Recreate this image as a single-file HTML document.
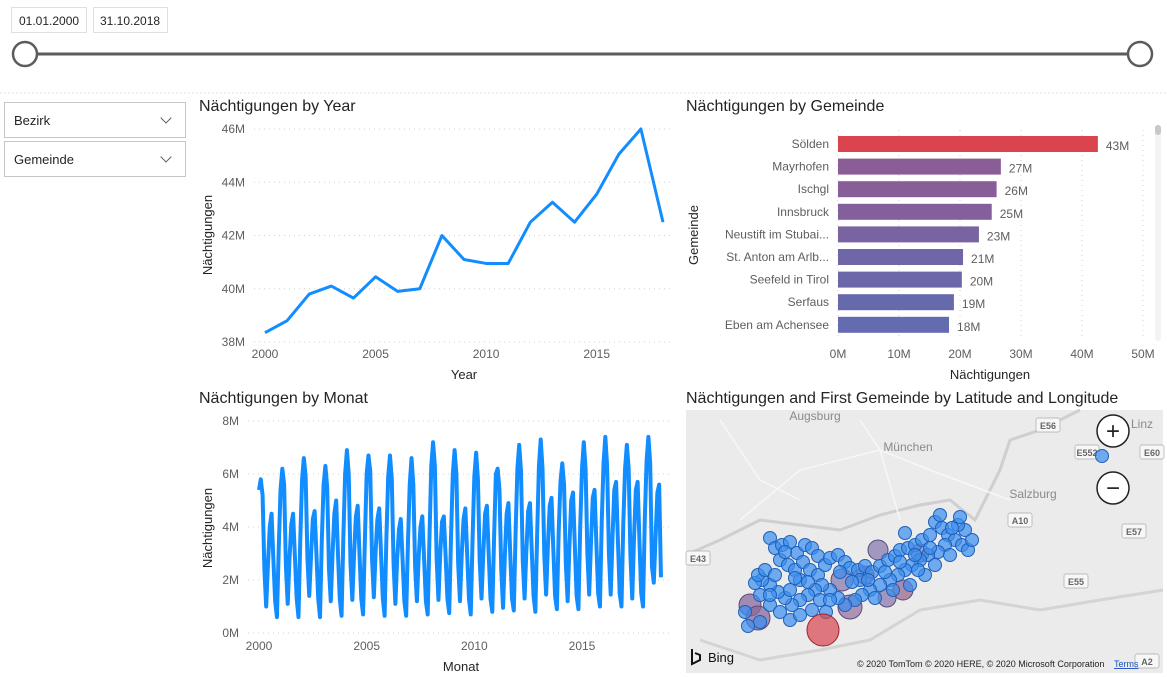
<!DOCTYPE html>
<html><head><meta charset="utf-8"><style>
body{margin:0;width:1167px;height:677px;background:#fff;font-family:"Liberation Sans",sans-serif;overflow:hidden;position:relative}
.abs{position:absolute}
.box{position:absolute;border:1px solid #e1dfdd;background:#fff;font-size:12px;color:#252423;box-sizing:border-box}
.dd{position:absolute;border:1px solid #c8c6c4;background:#fff;font-size:13px;color:#252423;box-sizing:border-box;padding:10px 0 0 9px}
.chev{position:absolute;right:15px;top:11px;width:7px;height:7px;border-right:1.3px solid #605e5c;border-bottom:1.3px solid #605e5c;transform:rotate(45deg)}
svg text{font-family:"Liberation Sans",sans-serif}
</style></head><body>
<div class="box" style="left:11px;top:7px;width:76px;height:26px;padding:6px 0 0 7px">01.01.2000</div>
<div class="box" style="left:93px;top:7px;width:75px;height:26px;padding:6px 0 0 6px">31.10.2018</div>
<svg class="abs" style="left:0;top:0" width="1167" height="100">
<line x1="25" y1="54" x2="1140" y2="54" stroke="#5c5c5c" stroke-width="3"/>
<circle cx="25" cy="54" r="12" fill="#fff" stroke="#5c5c5c" stroke-width="2.5"/>
<circle cx="1140" cy="54" r="12" fill="#fff" stroke="#5c5c5c" stroke-width="2.5"/>
<line x1="0" y1="93" x2="1167" y2="93" stroke="#e6e6e6" stroke-dasharray="2 2"/>
</svg>
<div class="dd" style="left:4px;top:102px;width:182px;height:36px">Bezirk<span class="chev"></span></div>
<div class="dd" style="left:4px;top:141px;width:182px;height:36px">Gemeinde<span class="chev"></span></div>

<svg id="year" class="abs" style="left:0;top:0" width="1167" height="677"></svg>

<script>
const years=[2000,2001,2002,2003,2004,2005,2006,2007,2008,2009,2010,2011,2012,2013,2014,2015,2016,2017,2018];
const yearValues=[38.35,38.8,39.8,40.1,39.65,40.45,39.9,40.0,42.0,41.1,40.95,40.95,42.5,43.25,42.5,43.55,45.05,46.0,42.5];
const yearYTicks=[38,40,42,44,46];
const yearXTicks=[2000,2005,2010,2015];
const monthRows=[
[5.4,5.8,5.2,2.4,1.0,2.6,4.0,4.5,2.8,1.2,0.6,3.2],
[5.4,6.2,5.6,2.5,1.1,2.8,4.1,4.5,2.9,1.3,0.6,3.5],
[5.8,6.6,5.9,2.8,1.4,2.9,4.3,4.6,3.0,1.3,0.6,3.5],
[5.6,6.3,5.5,2.4,1.2,3.0,4.5,5.0,3.0,1.3,0.65,3.6],
[6.0,6.9,6.0,2.6,1.25,3.0,4.4,4.8,3.0,1.3,0.7,3.5],
[6.0,6.7,6.1,2.8,1.35,3.1,4.3,4.7,3.0,1.3,0.65,3.6],
[5.9,6.7,5.8,2.6,1.1,2.8,3.9,4.3,2.8,1.2,0.65,3.4],
[5.6,6.6,5.6,2.5,1.2,2.9,4.0,4.4,2.8,1.2,0.7,3.6],
[6.3,7.2,6.3,2.8,1.25,3.0,4.2,4.4,2.9,1.3,0.75,3.6],
[6.0,6.9,6.0,2.6,1.2,3.0,4.3,4.7,3.0,1.3,0.7,3.5],
[5.9,6.8,5.8,2.7,1.3,3.0,4.5,4.8,3.0,1.3,0.8,3.6],
[6.0,6.2,5.4,2.4,0.95,2.9,4.5,4.9,3.0,1.3,0.85,3.8],
[6.2,7.1,6.1,2.7,1.3,3.1,4.6,4.9,3.1,1.4,0.8,3.7],
[6.3,7.3,6.2,2.9,1.45,3.3,4.8,5.1,3.2,1.4,0.9,3.8],
[5.7,6.4,5.6,2.6,1.2,3.3,5.0,5.3,3.3,1.4,0.9,4.0],
[6.2,7.2,6.2,3.0,1.45,3.4,5.1,5.4,3.4,1.5,1.0,4.2],
[6.4,7.4,6.3,3.0,1.45,3.6,5.4,5.7,3.5,1.5,1.0,4.1],
[6.2,7.1,6.2,2.9,1.3,3.6,5.4,5.7,3.5,1.5,1.0,4.3],
[6.5,7.4,6.4,2.5,1.9,3.6,5.3,5.6,2.1]];
const monthYTicks=[0,2,4,6,8];
const gemeinden=["Sölden","Mayrhofen","Ischgl","Innsbruck","Neustift im Stubai...","St. Anton am Arlb...","Seefeld in Tirol","Serfaus","Eben am Achensee"];
const gemeindeValues=[42.6,26.7,26.0,25.2,23.1,20.5,20.3,19.0,18.2];
const gemeindeLabels=["43M","27M","26M","25M","23M","21M","20M","19M","18M"];
const gemeindeColors=["#d9444f","#8b5d96","#885e98","#83609b","#7963a1","#6f66a7","#6c67a9","#6769ad","#646bb1"];
const barXTicks=[0,10,20,30,40,50];
const bubbles=[[770,538],[775,548],[782,545],[790,542],[797,553],[805,545],[812,548],[818,556],[780,560],[788,565],[795,570],[803,562],[810,570],[818,575],[825,565],[830,558],[838,555],[845,562],[850,568],[858,570],[865,566],[872,572],[880,566],[888,560],[895,556],[900,550],[908,548],[915,545],[922,540],[930,535],[935,522],[942,528],[948,535],[955,540],[962,545],[968,550],[972,540],[965,530],[958,525],[945,545],[938,552],[928,555],[920,560],[912,565],[905,570],[898,575],[890,580],[880,585],[870,590],[862,595],[855,600],[845,605],[838,598],[830,590],[822,585],[815,590],[808,595],[800,600],[792,605],[785,598],[778,592],[770,585],[762,580],[755,583],[760,595],[770,605],[780,612],[790,620],[800,615],[812,610],[820,600],[760,622],[748,626],[745,612],[758,575],[765,570],[800,580],[830,600],[860,580],[875,598],[893,590],[910,585],[925,575],[935,565],[950,555],[905,533],[915,555],[940,515],[960,517],[1102,456],[785,552],[795,578],[840,572],[852,582],[868,580],[885,572],[900,562],[918,570],[930,548],[952,528],[775,575],[808,582],[826,612],[770,595],[790,590]];
const bigBubbles=[[750,605,11,"#8a6a9e"],[758,618,12,"#8a6a9e"],[878,550,10,"#8a7bb0"],[842,580,11,"#8a7bb0"],[850,607,12,"#9a74a0"],[903,590,10,"#9a6a90"],[920,553,9,"#8a7bb0"],[865,575,9,"#a06a8a"],[887,598,9,"#8a7bb0"]];

const NS="http://www.w3.org/2000/svg";
const svg=document.getElementById('year');
function mk(tag,attrs,parent,text){const e=document.createElementNS(NS,tag);for(const k in attrs)e.setAttribute(k,attrs[k]);if(text!==undefined)e.textContent=text;(parent||svg).appendChild(e);return e;}

// Year chart
const yx=v=>265+(v-2000)*(663-265)/18, yy=v=>342-(v-38)*(342-129)/8;
let t=mk('text',{x:199,y:111,'font-size':16,fill:'#252423'},svg,'Nächtigungen by Year');

yearYTicks.forEach(v=>{let l=mk('line',{x1:254,x2:670,y1:yy(v),y2:yy(v),stroke:'#d0d0d0','stroke-dasharray':'1 4'});
 let tx=mk('text',{x:245,y:yy(v)+4,'font-size':12,fill:'#605e5c','text-anchor':'end'},svg,v+'M');});
yearXTicks.forEach(v=>{let tx=mk('text',{x:yx(v),y:358,'font-size':12,fill:'#605e5c','text-anchor':'middle'},svg,v);});
t=mk('text',{x:464,y:379,'font-size':13,fill:'#252423','text-anchor':'middle'},svg,'Year');
t=mk('text',{x:0,y:0,'font-size':13,fill:'#252423','text-anchor':'middle',transform:'translate(212,235) rotate(-90)'},svg,'Nächtigungen');
let p=mk('polyline',{points:years.map((y,i)=>yx(y)+','+yy(yearValues[i])).join(' '),fill:'none',stroke:'#118dff','stroke-width':3,'stroke-linejoin':'round'});


// Month chart
const mx=v=>259+(v-2000)*(582-259)/15, my=v=>633-v*(633-421)/8;
t=mk('text',{x:199,y:403,'font-size':16,fill:'#252423'},svg,'Nächtigungen by Monat');
monthYTicks.forEach(v=>{let l=mk('line',{x1:248,x2:670,y1:my(v),y2:my(v),stroke:'#d0d0d0','stroke-dasharray':'1 4'});
 let tx=mk('text',{x:239,y:my(v)+4,'font-size':12,fill:'#605e5c','text-anchor':'end'},svg,v+'M');});
yearXTicks.forEach(v=>{let tx=mk('text',{x:mx(v),y:650,'font-size':12,fill:'#605e5c','text-anchor':'middle'},svg,v);});
t=mk('text',{x:461,y:671,'font-size':13,fill:'#252423','text-anchor':'middle'},svg,'Monat');
t=mk('text',{x:0,y:0,'font-size':13,fill:'#252423','text-anchor':'middle',transform:'translate(212,528) rotate(-90)'},svg,'Nächtigungen');
let pts=[];monthRows.forEach((row,yi)=>row.forEach((v,mi)=>pts.push(mx(2000+yi+mi/12)+','+my(v))));
p=mk('polyline',{points:pts.join(' '),fill:'none',stroke:'#118dff','stroke-width':4,'stroke-linejoin':'round'});


// Bar chart
const bx=v=>838+v*(1143-838)/50, by=i=>144+i*22.6;
t=mk('text',{x:686,y:111,'font-size':16,fill:'#252423'},svg,'Nächtigungen by Gemeinde');
barXTicks.forEach(v=>{let l=mk('line',{x1:bx(v),x2:bx(v),y1:130,y2:340,stroke:'#d0d0d0','stroke-dasharray':'1 4'});
 let tx=mk('text',{x:bx(v),y:358,'font-size':12,fill:'#605e5c','text-anchor':'middle'},svg,v+'M');});
gemeinden.forEach((g,i)=>{let tx=mk('text',{x:829,y:by(i)+4,'font-size':12,fill:'#605e5c','text-anchor':'end'},svg,g);
 let r=mk('rect',{x:838,y:by(i)-8,width:bx(gemeindeValues[i])-838,height:16,fill:gemeindeColors[i]});
 let lb=mk('text',{x:bx(gemeindeValues[i])+8,y:by(i)+6,'font-size':12,fill:'#605e5c'},svg,gemeindeLabels[i]);});
t=mk('text',{x:990,y:379,'font-size':13,fill:'#252423','text-anchor':'middle'},svg,'Nächtigungen');
t=mk('text',{x:0,y:0,'font-size':13,fill:'#252423','text-anchor':'middle',transform:'translate(698,235) rotate(-90)'},svg,'Gemeinde');
let sb=mk('rect',{x:1155,y:125,width:6,height:216,rx:3,fill:'#f3f3f3'});
sb=mk('rect',{x:1155,y:125,width:6,height:10,rx:3,fill:'#c8c8c8'});

// Map
t=mk('text',{x:686,y:403,'font-size':16,fill:'#252423'},svg,'Nächtigungen and First Gemeinde by Latitude and Longitude');
const mg=mk('g',{});
mk('rect',{x:686,y:410,width:477,height:263,fill:'#ebebeb'},mg);
mk('path',{d:'M686 555 L720 540 L760 520 L800 525 L840 530 L880 515 L920 505 L950 500 L975 520 L1000 470 L1010 440 L1040 430 L1080 410',fill:'none',stroke:'#cfcfcf','stroke-width':3},mg);
mk('path',{d:'M700 640 L760 660 L820 650 L870 640 L920 610 L980 600 L1040 610 L1100 600 L1163 590',fill:'none',stroke:'#d4d4d4','stroke-width':3},mg);
mk('path',{d:'M720 420 L760 480 L800 500 M880 450 L860 420 M880 450 L930 470 L1010 500 M880 450 L800 470 L740 520 M880 450 L900 520',fill:'none',stroke:'#f7f7f7','stroke-width':1.5},mg);
[[815,420,'Augsburg'],[908,451,'München'],[1033,498,'Salzburg'],[1142,428,'Linz']].forEach(c=>{let tx=mk('text',{x:c[0],y:c[1],'font-size':12,fill:'#8a8a8a','text-anchor':'middle'},mg,c[2]);});
[[1048,427,'E56'],[1087,454,'E552'],[1152,454,'E60'],[1020,522,'A10'],[1134,533,'E57'],[698,560,'E43'],[1076,583,'E55'],[1147,663,'A2']].forEach(c=>{mk('rect',{x:c[0]-12,y:c[1]-9,width:24,height:14,fill:'#f7f7f7',stroke:'#aaa','stroke-width':0.7,rx:2},mg);let tx=mk('text',{x:c[0],y:c[1]+2,'font-size':9,fill:'#666','text-anchor':'middle','font-weight':'bold'},mg,c[2]);});
bigBubbles.forEach(b=>{let c=mk('circle',{cx:b[0],cy:b[1],r:b[2],fill:b[3],'fill-opacity':0.75,stroke:'#5a4a7a','stroke-width':1},mg);});
bubbles.forEach(b=>{let c=mk('circle',{cx:b[0],cy:b[1],r:6.5,fill:'#3a8ef0','fill-opacity':0.7,stroke:'#1f5fb8','stroke-width':1},mg);});
let rc=mk('circle',{cx:823,cy:630,r:16,fill:'#d9444f','fill-opacity':0.7,stroke:'#a02030','stroke-width':1},mg);
[[1113,431,'+'],[1113,488,'−']].forEach(z=>{let g=mk('g',{},mg);mk('circle',{cx:z[0],cy:z[1],r:16,fill:'#fff',stroke:'#222','stroke-width':1.5},g);mk('text',{x:z[0],y:z[1]+8,'font-size':24,'text-anchor':'middle',fill:'#222'},g,z[2]);});
t=mk('text',{x:708,y:662,'font-size':13,fill:'#111'},mg,'Bing');
mk('path',{d:'M692 649 L692 664 L700 660 L700 655 L695 653',fill:'none',stroke:'#111','stroke-width':2},mg);
t=mk('text',{x:857,y:667,'font-size':9,fill:'#222'},mg,'© 2020 TomTom © 2020 HERE, © 2020 Microsoft Corporation');
t=mk('text',{x:1114,y:667,'font-size':9,fill:'#1a4fbf','text-decoration':'underline'},mg,'Terms');
</script>
</body></html>
